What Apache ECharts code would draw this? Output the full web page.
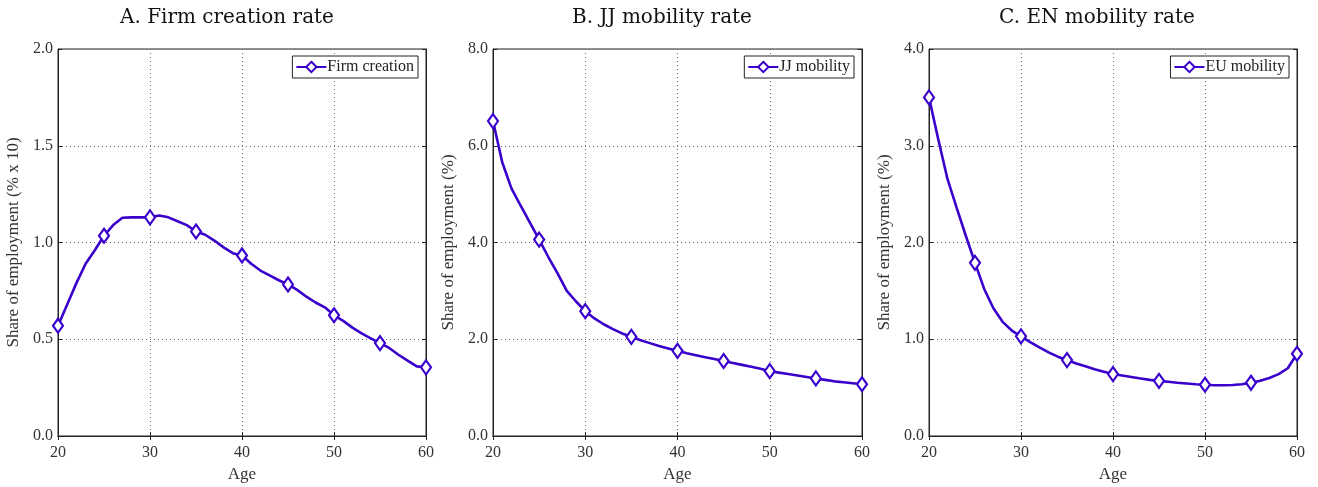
<!DOCTYPE html>
<html>
<head>
<meta charset="utf-8">
<script src="https://cdn.jsdelivr.net/npm/echarts@6/dist/echarts.min.js"></script>
<style>
  html, body { margin: 0; padding: 0; background: #fff; }
  #chart { width: 1318px; height: 487px; }
</style>
</head>
<body>
<div id="chart"></div>
<script>
// ages 20..60, one point per year
var ages = [20, 21, 22, 23, 24, 25, 26, 27, 28, 29, 30, 31, 32, 33, 34, 35, 36, 37, 38, 39, 40,
  41, 42, 43, 44, 45, 46, 47, 48, 49, 50, 51, 52, 53, 54, 55, 56, 57, 58, 59, 60];

var firmCreation = [0.57, 0.68, 0.79, 0.89, 0.96, 1.035, 1.09, 1.128, 1.13, 1.13, 1.13, 1.14, 1.13, 1.11, 1.09,
  1.057, 1.04, 1.01, 0.975, 0.945, 0.933, 0.89, 0.855, 0.83, 0.805, 0.783, 0.755, 0.72, 0.69, 0.665,
  0.624, 0.595, 0.56, 0.53, 0.505, 0.48, 0.455, 0.42, 0.39, 0.36, 0.355];

var jjMobility = [6.51, 5.66, 5.12, 4.76, 4.41, 4.06, 3.7, 3.36, 3.0, 2.78, 2.58, 2.43, 2.31, 2.21, 2.12,
  2.05, 1.98, 1.92, 1.86, 1.81, 1.76, 1.71, 1.67, 1.63, 1.59, 1.55, 1.51, 1.47, 1.43, 1.39,
  1.34, 1.31, 1.28, 1.25, 1.22, 1.19, 1.16, 1.13, 1.11, 1.09, 1.07];

var euMobility = [3.5, 3.07, 2.66, 2.36, 2.07, 1.79, 1.52, 1.32, 1.18, 1.09, 1.03, 0.97, 0.915, 0.865, 0.82,
  0.785, 0.75, 0.72, 0.69, 0.665, 0.64, 0.625, 0.61, 0.595, 0.58, 0.57, 0.56, 0.55, 0.543, 0.535,
  0.53, 0.525, 0.525, 0.527, 0.535, 0.55, 0.57, 0.6, 0.64, 0.7, 0.85];

var titles = ["A. Firm creation rate", "B. JJ mobility rate", "C. EN mobility rate"];
var seriesNames = ["Firm creation", "JJ mobility", "EU mobility"];
var yNames = ["Share of employment (% x 10)", "Share of employment (%)", "Share of employment (%)"];
var yMax = [2.0, 8.0, 4.0];
var yStep = [0.5, 2.0, 1.0];

var chart = echarts.init(document.getElementById("chart"));

var serif = "Liberation Serif";
var lineColor = "#3a00cc";
var grids = [
  { left: 58, width: 368 },
  { left: 493, width: 369 },
  { left: 929, width: 368 }
];
var titleX = [222, 657, 1092];
var legendRight = [900, 464, 29];
var allData = [firmCreation, jjMobility, euMobility];

var option = {
  backgroundColor: "#fff",
  animation: false,
  title: [],
  legend: [],
  grid: [],
  xAxis: [],
  yAxis: [],
  series: []
};

for (var i = 0; i < 3; i++) {
  option.title.push({
    text: titles[i],
    left: titleX[i],
    top: 3,
    textAlign: "center",
    textStyle: { fontFamily: "DejaVu Serif", fontSize: 20, fontWeight: "normal", color: "#111" }
  });
  option.grid.push({
    left: grids[i].left,
    width: grids[i].width,
    top: 49,
    height: 387,
    outerBoundsMode: "none",
    containLabel: false,
    show: true,
    borderColor: "#222",
    borderWidth: 1
  });
  option.legend.push({
    data: [seriesNames[i]],
    right: legendRight[i],
    top: 56,
    orient: "vertical",
    backgroundColor: "#fff",
    borderColor: "#222",
    borderWidth: 1,
    borderRadius: 0,
    padding: [3, 4, 3, 3],
    itemWidth: 30,
    itemHeight: 13,
    itemGap: 2,
    textStyle: { fontFamily: serif, fontSize: 16, color: "#222", padding: [0, 0, 0, -4] }
  });
  // bottom x axis
  option.xAxis.push({
    type: "value",
    gridIndex: i,
    min: 20,
    max: 60,
    interval: 10,
    name: "Age",
    nameLocation: "middle",
    nameGap: 30,
    nameTextStyle: { fontFamily: serif, fontSize: 17, color: "#333" },
    axisLine: { show: true, lineStyle: { color: "#222", width: 1 } },
    axisTick: { show: true, inside: true, length: 4, lineStyle: { color: "#222" } },
    axisLabel: { fontFamily: serif, fontSize: 16, color: "#333", margin: 9 },
    splitLine: { show: true, lineStyle: { color: "#666", type: [1, 3], width: 1 } }
  });
  // top x axis (ticks only)
  option.xAxis.push({
    type: "value",
    gridIndex: i,
    position: "top",
    min: 20,
    max: 60,
    interval: 10,
    axisLine: { show: true, lineStyle: { color: "#222", width: 1 } },
    axisTick: { show: true, inside: true, length: 4, lineStyle: { color: "#222" } },
    axisLabel: { show: false },
    splitLine: { show: false }
  });
  option.yAxis.push({
    type: "value",
    gridIndex: i,
    min: 0,
    max: yMax[i],
    interval: yStep[i],
    name: yNames[i],
    nameLocation: "middle",
    nameGap: 36,
    nameTextStyle: { fontFamily: serif, fontSize: 17, color: "#333" },
    axisLine: { show: true, lineStyle: { color: "#222", width: 1 } },
    axisTick: { show: true, inside: true, length: 4, lineStyle: { color: "#222" } },
    axisLabel: {
      fontFamily: serif, fontSize: 16, color: "#333", margin: 5,
      formatter: function (v) { return v.toFixed(1); }
    },
    splitLine: { show: true, lineStyle: { color: "#666", type: [1, 3], width: 1 } }
  });
  option.yAxis.push({
    type: "value",
    gridIndex: i,
    position: "right",
    min: 0,
    max: yMax[i],
    interval: yStep[i],
    axisLine: { show: true, lineStyle: { color: "#222", width: 1 } },
    axisTick: { show: true, inside: true, length: 4, lineStyle: { color: "#222" } },
    axisLabel: { show: false },
    splitLine: { show: false }
  });

  var pts = ages.map(function (a, k) {
    var item = { value: [a, allData[i][k]] };
    if (a % 5 !== 0) item.symbol = "none";
    return item;
  });

  option.series.push({
    name: seriesNames[i],
    type: "line",
    xAxisIndex: i * 2,
    yAxisIndex: i * 2,
    data: pts,
    symbol: "diamond",
    symbolSize: [10, 14],
    showAllSymbol: true,
    lineStyle: { color: lineColor, width: 2.6 },
    itemStyle: { color: "#fff", borderColor: lineColor, borderWidth: 2.2 },
    z: 5
  });
}

option && chart.setOption(option);
</script>
</body>
</html>
